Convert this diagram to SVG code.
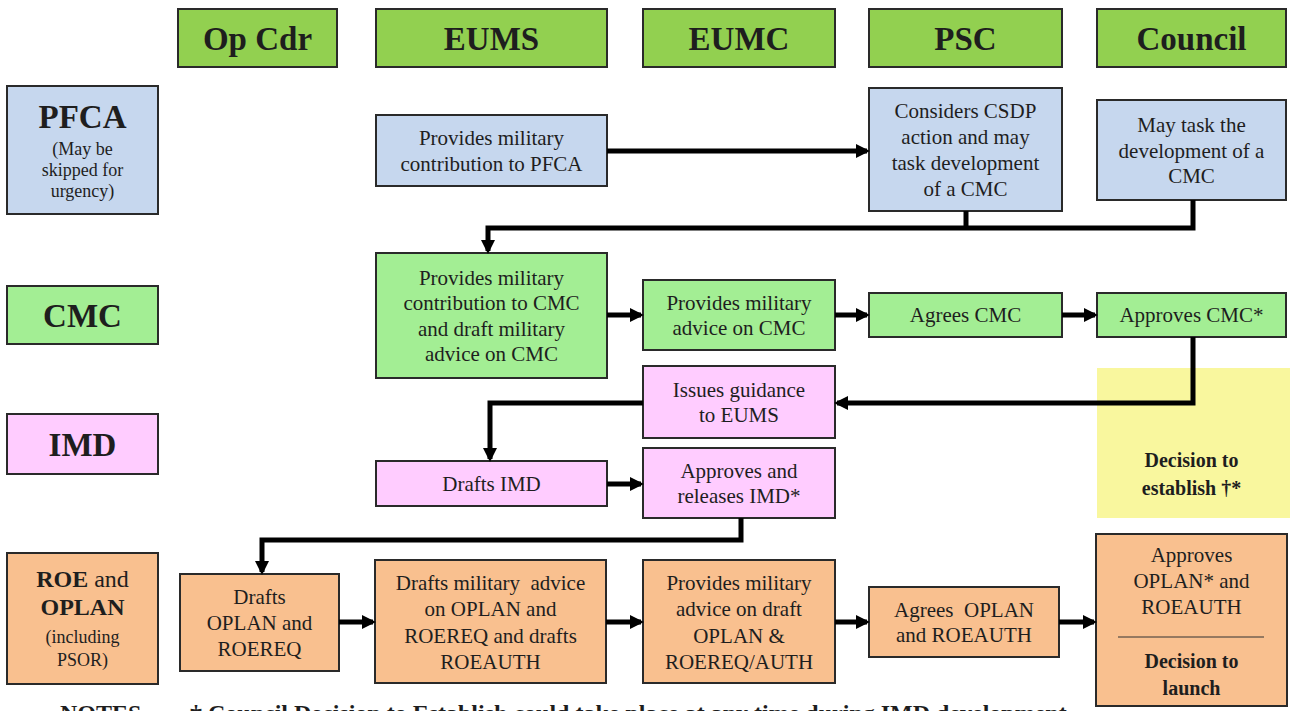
<svg xmlns="http://www.w3.org/2000/svg" width="1290" height="711" viewBox="0 0 1290 711">
<defs>
<style>
.box{stroke:#2a2a2a;stroke-width:2}
.hdr{fill:#92d050}
.blue{fill:#c6d7ee}
.green{fill:#a3ee94}
.pink{fill:#ffccff}
.orange{fill:#f9c08f}
.yellow{fill:#f9f79e}
text{font-family:"Liberation Serif","Times New Roman",serif;fill:#1e1e1e;text-anchor:middle}
.h{font-size:33px;font-weight:bold}
.t{font-size:21px}
.s{font-size:18px}
.b{font-size:20px;font-weight:bold}
.lbl{font-size:24px}
.conn{fill:none;stroke:#000;stroke-width:5}
.note{font-size:24px;font-weight:bold;text-anchor:start}
</style>
<marker id="ah" markerUnits="userSpaceOnUse" markerWidth="14" markerHeight="14" refX="11" refY="7" orient="auto">
<path d="M0,0 L14,7 L0,14 z" fill="#000"/>
</marker>
</defs>
<rect width="1290" height="711" fill="#fff"/>

<g id="headers">
<g id="h-opcdr"><rect class="box hdr" x="178" y="9" width="159" height="58"/><text class="h" x="257.5" y="50">Op Cdr</text></g>
<g id="h-eums"><rect class="box hdr" x="376" y="9" width="231" height="58"/><text class="h" x="491.5" y="50">EUMS</text></g>
<g id="h-eumc"><rect class="box hdr" x="643" y="9" width="192" height="58"/><text class="h" x="739" y="50">EUMC</text></g>
<g id="h-psc"><rect class="box hdr" x="869" y="9" width="193" height="58"/><text class="h" x="965.5" y="50">PSC</text></g>
<g id="h-council"><rect class="box hdr" x="1097" y="9" width="189" height="58"/><text class="h" x="1191.5" y="50">Council</text></g>
</g>

<g id="l-pfca"><rect class="box blue" x="7" y="86" width="151" height="128"/>
<text class="h" x="82.5" y="128">PFCA</text>
<text class="s" x="82.5" y="155">(May be</text>
<text class="s" x="82.5" y="176">skipped for</text>
<text class="s" x="82.5" y="197">urgency)</text></g>
<g id="l-cmc"><rect class="box green" x="7" y="286" width="151" height="58"/><text class="h" x="82.5" y="327">CMC</text></g>
<g id="l-imd"><rect class="box pink" x="7" y="414" width="151" height="60"/><text class="h" x="82.5" y="456">IMD</text></g>
<g id="l-roe"><rect class="box orange" x="7" y="553" width="151" height="131"/>
<text class="lbl" x="82.5" y="587"><tspan font-weight="bold">ROE</tspan> and</text>
<text class="lbl" x="82.5" y="615" font-weight="bold">OPLAN</text>
<text class="s" x="82.5" y="643">(including</text>
<text class="s" x="82.5" y="666">PSOR)</text></g>

<g id="n-pfca-eums"><rect class="box blue" x="376" y="115" width="231" height="71"/>
<text class="t" x="491.5" y="145">Provides military</text>
<text class="t" x="491.5" y="171">contribution to PFCA</text></g>
<g id="n-pfca-psc"><rect class="box blue" x="869" y="88" width="193" height="123"/>
<text class="t" x="965.5" y="118">Considers CSDP</text>
<text class="t" x="965.5" y="144">action and may</text>
<text class="t" x="965.5" y="170">task development</text>
<text class="t" x="965.5" y="196">of a CMC</text></g>
<g id="n-pfca-council"><rect class="box blue" x="1097" y="100" width="189" height="100"/>
<text class="t" x="1191.5" y="132">May task the</text>
<text class="t" x="1191.5" y="158">development of a</text>
<text class="t" x="1191.5" y="183">CMC</text></g>

<g id="n-cmc-eums"><rect class="box green" x="376" y="253" width="231" height="125"/>
<text class="t" x="491.5" y="285">Provides military</text>
<text class="t" x="491.5" y="310">contribution to CMC</text>
<text class="t" x="491.5" y="336">and draft military</text>
<text class="t" x="491.5" y="361">advice on CMC</text></g>
<g id="n-cmc-eumc"><rect class="box green" x="643" y="280" width="192" height="70"/>
<text class="t" x="739" y="310">Provides military</text>
<text class="t" x="739" y="335">advice on CMC</text></g>
<g id="n-cmc-psc"><rect class="box green" x="869" y="293" width="193" height="44"/>
<text class="t" x="965.5" y="322">Agrees CMC</text></g>
<g id="n-cmc-council"><rect class="box green" x="1097" y="293" width="189" height="44"/>
<text class="t" x="1191.5" y="322">Approves CMC*</text></g>

<g id="n-decision-establish"><rect class="yellow" x="1097" y="368" width="193" height="150"/>
<text class="b" x="1191.5" y="467">Decision to</text>
<text class="b" x="1191.5" y="495">establish †*</text></g>

<g id="n-imd-guidance"><rect class="box pink" x="643" y="366" width="192" height="72"/>
<text class="t" x="739" y="397">Issues guidance</text>
<text class="t" x="739" y="422">to EUMS</text></g>
<g id="n-imd-eums"><rect class="box pink" x="376" y="461" width="231" height="45"/>
<text class="t" x="491.5" y="491">Drafts IMD</text></g>
<g id="n-imd-eumc"><rect class="box pink" x="643" y="448" width="192" height="70"/>
<text class="t" x="739" y="478">Approves and</text>
<text class="t" x="739" y="503">releases IMD*</text></g>

<g id="n-oplan-opcdr"><rect class="box orange" x="180" y="574" width="159" height="97"/>
<text class="t" x="259.5" y="604">Drafts</text>
<text class="t" x="259.5" y="630">OPLAN and</text>
<text class="t" x="259.5" y="656">ROEREQ</text></g>
<g id="n-oplan-eums"><rect class="box orange" x="375" y="560" width="231" height="123"/>
<text class="t" x="490.5" y="590" xml:space="preserve">Drafts military  advice</text>
<text class="t" x="490.5" y="616">on OPLAN and</text>
<text class="t" x="490.5" y="643">ROEREQ and drafts</text>
<text class="t" x="490.5" y="669">ROEAUTH</text></g>
<g id="n-oplan-eumc"><rect class="box orange" x="643" y="560" width="192" height="123"/>
<text class="t" x="739" y="590">Provides military</text>
<text class="t" x="739" y="616">advice on draft</text>
<text class="t" x="739" y="643">OPLAN &amp;</text>
<text class="t" x="739" y="669">ROEREQ/AUTH</text></g>
<g id="n-oplan-psc"><rect class="box orange" x="869" y="587" width="190" height="70"/>
<text class="t" x="964" y="617" xml:space="preserve">Agrees  OPLAN</text>
<text class="t" x="964" y="642">and ROEAUTH</text></g>
<g id="n-oplan-council"><rect class="box orange" x="1096" y="534" width="191" height="172"/>
<text class="t" x="1191.5" y="562">Approves</text>
<text class="t" x="1191.5" y="588">OPLAN* and</text>
<text class="t" x="1191.5" y="614">ROEAUTH</text>
<line x1="1118" y1="637" x2="1264" y2="637" stroke="#333" stroke-width="1"/>
<text class="b" x="1191.5" y="668">Decision to</text>
<text class="b" x="1191.5" y="695">launch</text></g>

<g id="connectors">
<path class="conn" d="M607,151 H867" marker-end="url(#ah)"/>
<path class="conn" d="M966,211 V228"/>
<path class="conn" d="M1193,200 V228 H488 V251" marker-end="url(#ah)"/>
<path class="conn" d="M607,315 H641" marker-end="url(#ah)"/>
<path class="conn" d="M835,315 H867" marker-end="url(#ah)"/>
<path class="conn" d="M1062,315 H1095" marker-end="url(#ah)"/>
<path class="conn" d="M1193,337 V403 H837" marker-end="url(#ah)"/>
<path class="conn" d="M643,403 H490 V459" marker-end="url(#ah)"/>
<path class="conn" d="M607,484 H641" marker-end="url(#ah)"/>
<path class="conn" d="M741,518 V540 H262 V572" marker-end="url(#ah)"/>
<path class="conn" d="M339,622 H373" marker-end="url(#ah)"/>
<path class="conn" d="M606,622 H641" marker-end="url(#ah)"/>
<path class="conn" d="M835,622 H867" marker-end="url(#ah)"/>
<path class="conn" d="M1059,622 H1094" marker-end="url(#ah)"/>
</g>

<g id="notes">
<text class="note" x="60" y="721">NOTES</text>
<text class="note" x="190" y="721">† Council Decision to Establish could take place at any time during IMD development</text>
</g>
</svg>
